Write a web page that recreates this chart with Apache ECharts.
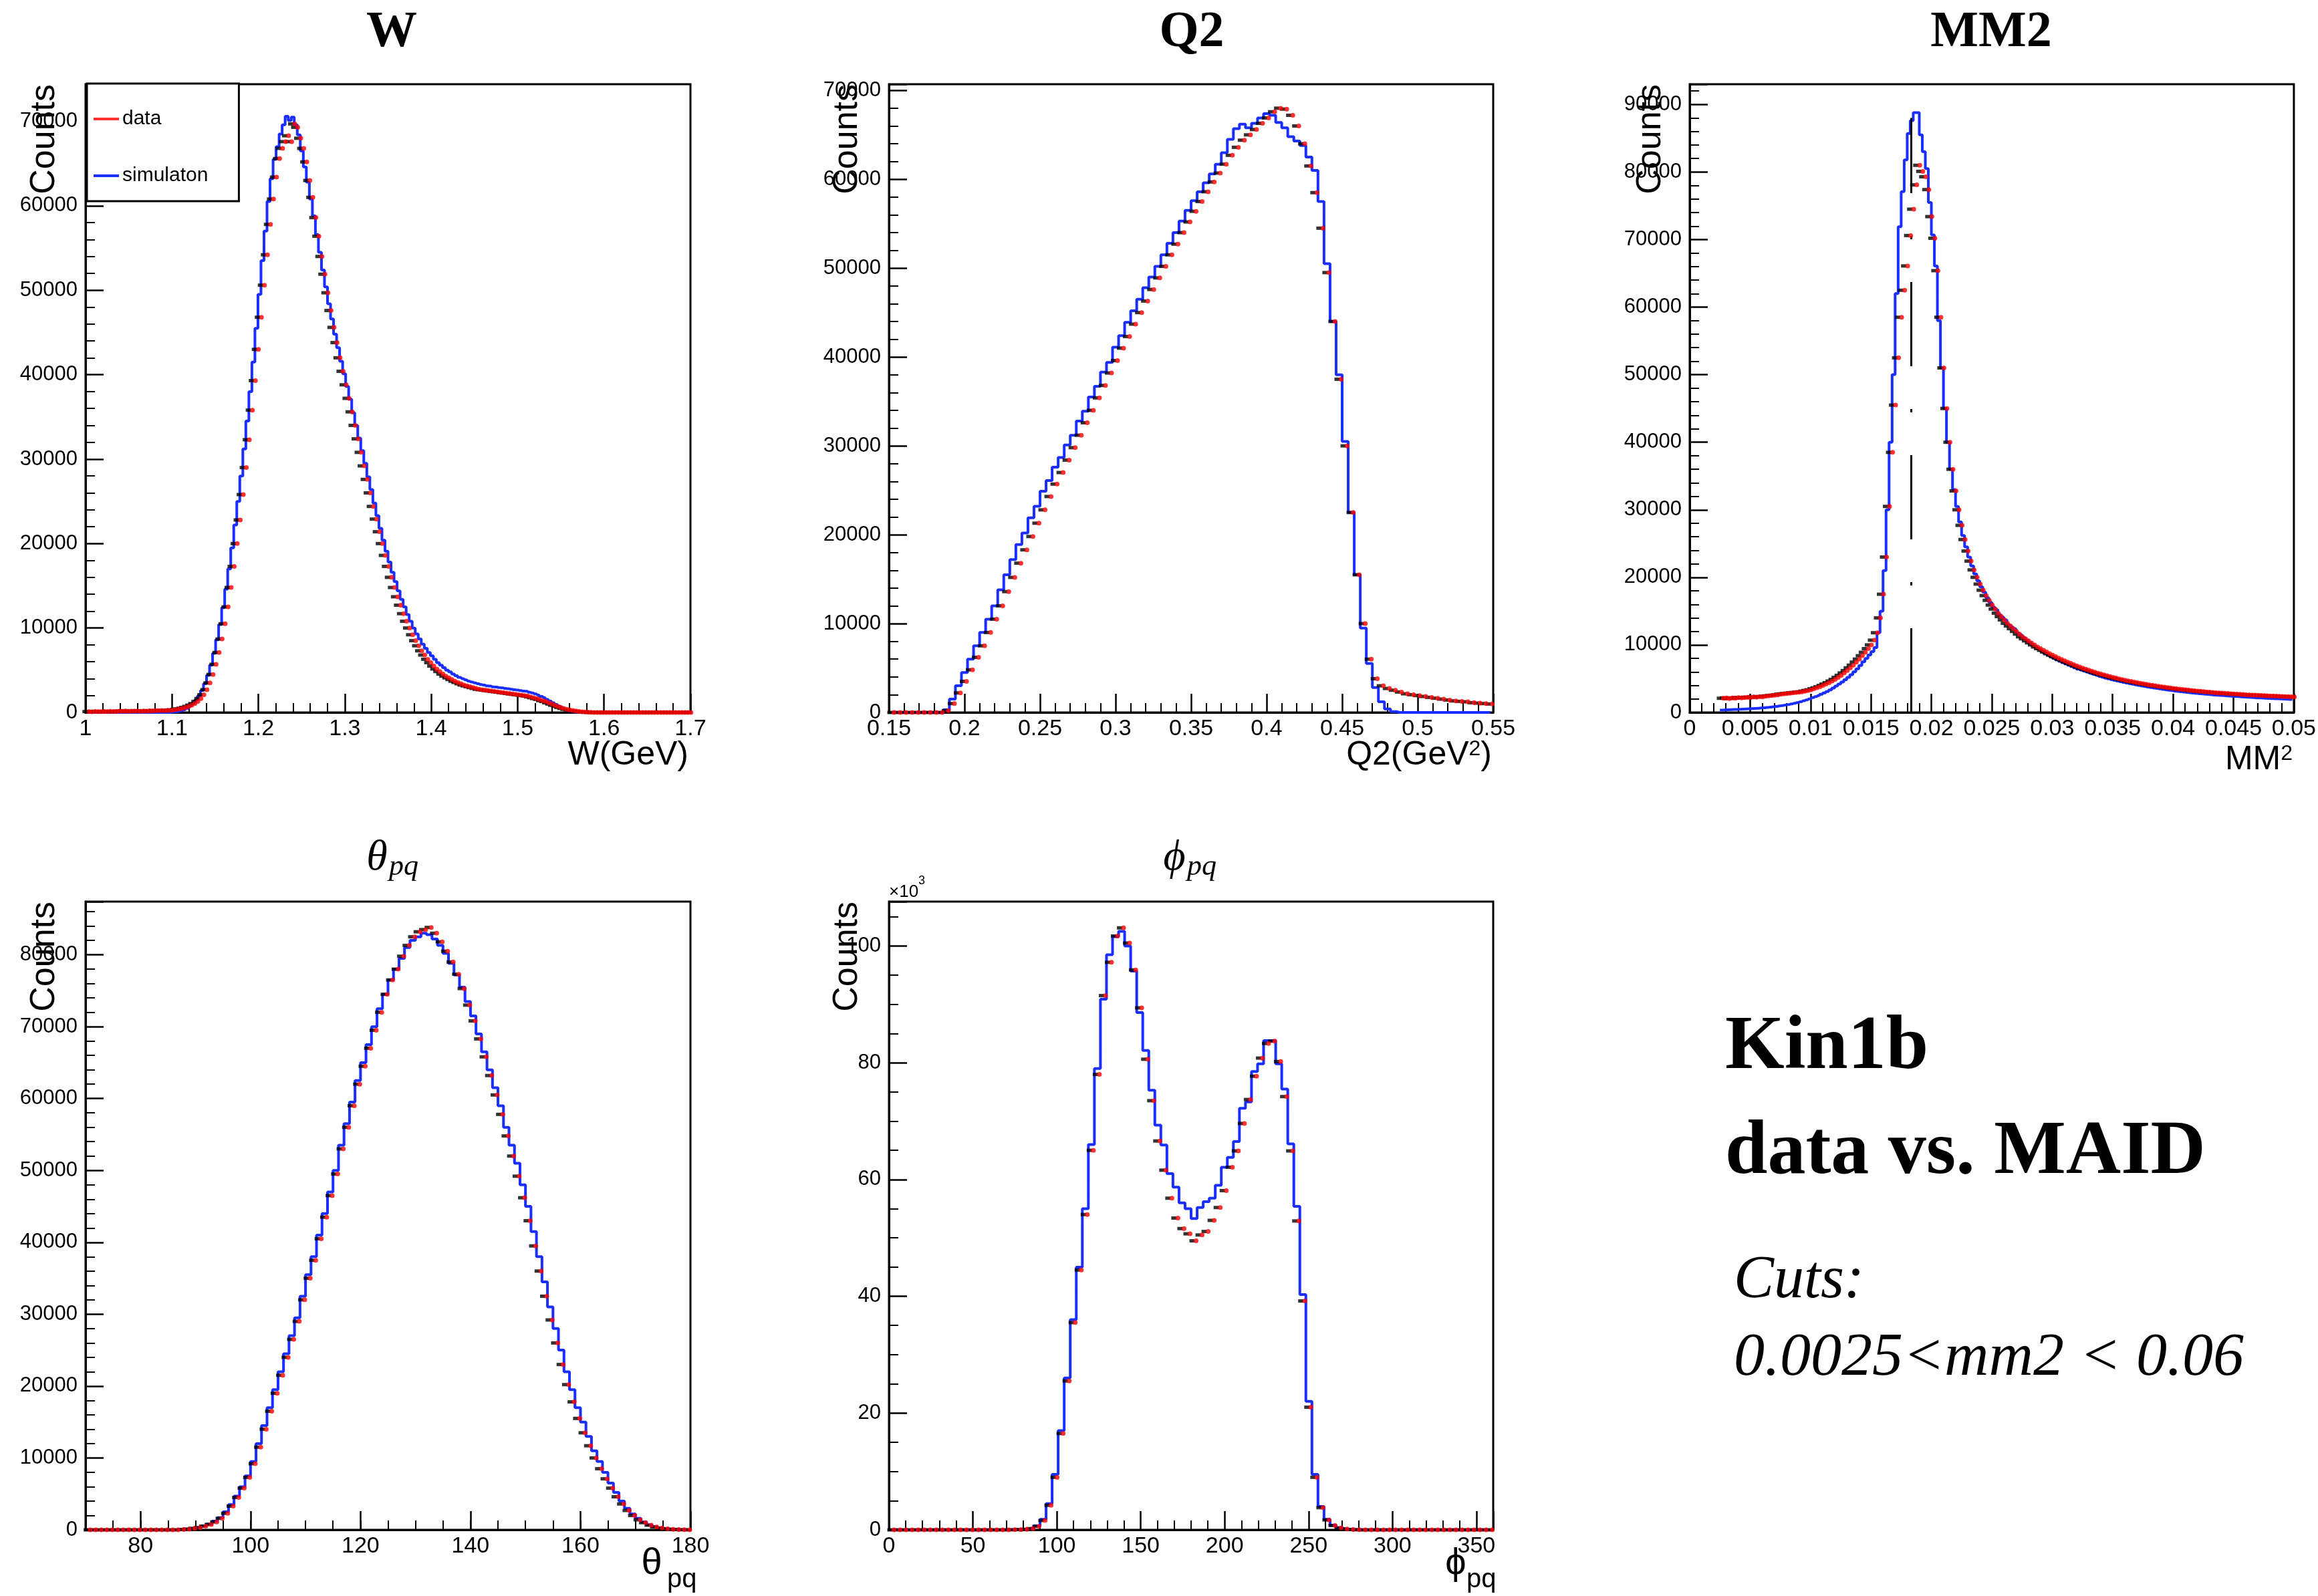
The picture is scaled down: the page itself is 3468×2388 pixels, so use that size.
<!DOCTYPE html>
<html><head><meta charset="utf-8">
<script src="https://cdn.jsdelivr.net/npm/echarts@6/dist/echarts.min.js"></script>
<style>html,body{margin:0;padding:0;background:#fff}#c{width:3468px;height:2388px}</style>
</head><body><div id="c"></div>
<script>
// ---------------- DATA (bin lower edge, bin width, counts per bin) ----------------
const W_LO = 1.0, W_BW = 0.0035;
const W_SIM = [
0,0,0,0,0,0,0,0,0,0,
0,0,0,0,0,0,0,0,0,0,
0,0,0,0,0,0,0,0,30,60,
120,200,320,500,750,1050,1450,1950,2600,3400,
4400,5600,7000,8600,10400,12400,14600,17000,19500,22200,
25000,28000,31200,34500,38000,41500,45500,49500,53500,57000,
60500,63200,65500,67000,68500,69600,70600,70100,70500,69600,
68400,66500,64600,62800,60800,58800,56600,54500,52400,50400,
48400,46600,44800,43200,41600,40100,38600,37100,35500,34000,
32500,31000,29500,27900,26400,24800,23300,21800,20400,19100,
17800,16600,15500,14400,13400,12500,11600,10800,10000,9300,
8700,8100,7600,7100,6700,6300,5900,5600,5300,5000,
4800,4550,4350,4150,4000,3850,3700,3600,3500,3400,
3300,3250,3150,3120,3030,3010,2940,2910,2840,2810,
2760,2690,2660,2600,2540,2510,2400,2310,2190,2060,
1900,1750,1550,1350,1150,950,750,550,350,200,
100,30,0,0,0,0,0,0,0,0,
0,0,0,0,0,0,0,0,0,0,
0,0,0,0,0,0,0,0,0,0,
0,0,0,0,0,0,0,0,0,0];
const W_DATA = [
100,80,120,100,90,110,100,130,90,120,
150,130,170,140,160,150,180,140,170,160,
200,180,220,210,230,200,250,240,300,350,
420,500,600,720,870,1050,1300,1650,2100,2700,
3500,4500,5700,7100,8700,10500,12500,14800,17300,20000,
22800,25800,29000,32300,35800,39300,43000,46800,50600,54200,
57800,60800,63400,65600,66800,67600,68300,67600,69700,69300,
68000,66800,65200,63000,61000,58600,56400,54000,51900,49700,
47600,45600,43800,42000,40400,38800,37200,35600,34000,32400,
30800,29200,27600,26000,24400,22900,21400,20000,18600,17300,
16000,14800,13700,12700,11700,10800,10000,9200,8500,7900,
7300,6800,6300,5900,5500,5150,4850,4550,4300,4100,
3900,3700,3550,3400,3250,3150,3050,2950,2850,2750,
2700,2650,2600,2550,2500,2450,2400,2350,2300,2250,
2200,2150,2100,2050,2000,1950,1850,1750,1650,1550,
1400,1300,1150,1000,850,720,600,480,380,300,
230,170,120,80,50,30,15,0,0,0,
0,0,0,0,0,0,0,0,0,0,
0,0,0,0,0,0,0,0,0,0,
0,0,0,0,0,0,0,0,0,0];

const Q2_LO = 0.15, Q2_BW = 0.004;
const Q2_SIM = [
0,0,0,0,0,0,0,0,0,300,
1500,3000,4500,6000,7500,9000,10500,12000,13800,15500,
17200,18900,20200,21900,23200,24900,26100,27600,28700,30100,
31200,32800,33900,35500,36700,38300,39400,41100,42400,43900,
45200,46500,47800,49000,50200,51500,52800,54000,55300,56500,
57600,58600,59600,60600,61700,63000,64500,65700,66200,65800,
66300,66900,67400,67200,66400,65800,64800,64300,63800,62500,
61000,57500,50500,44000,38000,30500,22500,15500,9500,5500,
2800,1200,400,100,0,0,0,0,0,0,
0,0,0,0,0,0,0,0,0,0];
const Q2_DATA = [
0,0,0,0,0,0,0,0,0,200,
1000,2200,3500,4800,6200,7500,9000,10500,12000,13600,
15200,16800,18300,19800,21300,22800,24300,25700,27000,28400,
29800,31200,32600,34000,35400,36800,38200,39600,41000,42300,
43700,45000,46300,47600,48900,50200,51500,52700,54000,55200,
56400,57500,58600,59700,60700,61700,62700,63600,64400,65000,
65600,66300,66900,67600,68000,67900,67200,66000,64000,61500,
58500,54500,49500,44000,37500,30000,22500,15500,10000,6000,
3800,3000,2700,2500,2300,2100,2000,1900,1800,1700,
1600,1500,1400,1300,1250,1200,1100,1050,1000,950];

const MM2_LO = 0, MM2_BW = 0.00025;
const MM2_SIM = [
null,null,null,null,null,null,null,null,null,null,
350,370,400,410,440,450,480,490,520,540,
560,600,620,660,690,740,780,840,890,960,
1020,1100,1170,1260,1360,1470,1590,1720,1860,2010,
2200,2350,2500,2700,2900,3100,3350,3600,3900,4200,
4500,4850,5200,5600,6000,6450,6950,7500,8000,8500,
9000,9600,11800,15000,21000,30000,40000,50000,62000,71900,
77100,81800,85700,87600,88800,88800,85500,83000,80500,75500,
70700,66100,58000,51000,45000,40000,36000,33000,30500,28200,
26200,24500,23000,21700,20500,19500,18600,17800,17000,16300,
15600,15200,14500,14100,13700,13000,12700,12400,11800,11500,
11100,10700,10400,10000,9700,9400,9100,8800,8550,8300,
8050,7800,7600,7400,7200,7000,6800,6600,6400,6250,
6100,5950,5800,5650,5500,5350,5200,5080,4960,4850,
4740,4640,4540,4440,4350,4260,4170,4080,4000,3920,
3840,3760,3690,3620,3550,3480,3410,3350,3290,3230,
3170,3110,3060,3010,2960,2910,2860,2820,2780,2740,
2700,2660,2620,2580,2550,2520,2490,2460,2430,2400,
2370,2340,2310,2280,2250,2220,2190,2160,2140,2120,
2100,2080,2060,2040,2020,2000,1980,1960,1940,1920];
const MM2_DATA = [
null,null,null,null,null,null,null,null,null,null,
2100,2150,2050,2150,2100,2200,2150,2200,2250,2200,
2300,2250,2350,2300,2400,2450,2500,2550,2600,2700,
2750,2800,2850,2900,2950,3000,3050,3150,3250,3350,
3500,3650,3800,4000,4200,4400,4650,4900,5200,5500,
5850,6200,6600,7000,7450,7900,8400,8900,9450,10000,
10700,11800,14000,17500,23000,30500,38500,45500,52500,58500,
62500,66100,70600,74500,78100,81000,80100,79300,77400,73400,
70200,65400,58500,51000,45000,40000,36000,32800,30000,27700,
25600,23900,22400,21100,20000,19000,18100,17300,16600,15900,
15300,14700,14200,13700,13200,12800,12400,12000,11600,11200,
10900,10600,10300,10000,9700,9450,9200,8950,8700,8480,
8250,8050,7850,7650,7450,7260,7080,6900,6720,6560,
6400,6250,6100,5960,5820,5690,5560,5440,5320,5200,
5090,4980,4880,4780,4680,4590,4500,4410,4330,4250,
4170,4090,4020,3950,3880,3810,3750,3690,3630,3570,
3510,3460,3410,3360,3310,3260,3210,3170,3130,3090,
3050,3010,2970,2930,2900,2870,2840,2810,2780,2750,
2720,2690,2660,2630,2600,2580,2560,2540,2520,2500,
2480,2460,2440,2420,2400,2380,2360,2340,2320,2300];
const MM2_LINE_X = 0.0183, MM2_LINE_TOP = 88000;

const TH_LO = 70, TH_BW = 1;
const TH_SIM = [
0,0,0,0,0,0,0,0,0,0,
0,0,0,0,0,0,0,50,100,200,
350,550,800,1200,1700,2500,3500,4700,6000,7500,
9500,12000,14500,17000,19500,22000,24500,27000,29500,32500,
35500,38000,41000,44000,47000,50000,53500,56500,59500,62500,
65000,67500,70000,72500,74500,76500,78000,79500,81000,82000,
82500,83000,82800,82200,81300,80200,78800,77200,75500,73500,
71500,69000,66500,64000,61500,59000,56000,53500,51000,48000,
45000,41500,38000,34500,31000,28000,25000,22000,19500,17000,
15000,13000,11000,9500,8000,6500,5200,4000,3000,2200,
1600,1100,700,450,250,150,80,40,20,10];
const TH_DATA = [
0,0,0,0,0,0,0,0,0,0,
0,0,0,0,0,0,0,50,100,200,
300,500,750,1100,1600,2300,3300,4500,5800,7300,
9200,11500,14000,16500,19000,21500,24000,26500,29000,32000,
35000,37500,40500,43500,46500,49500,53000,56000,59000,62000,
64500,67000,69500,72000,74500,76500,78000,79800,81300,82500,
83200,83500,83800,83000,81800,80500,79000,77300,75300,73000,
70800,68300,65800,63200,60500,57800,54800,52000,49200,46200,
43000,39500,36000,32500,29200,26000,23000,20200,17800,15500,
13500,11700,10000,8500,7100,5800,4600,3600,2700,2000,
1400,1000,650,400,250,150,80,40,20,10];

const PHI_LO = 0, PHI_BW = 3.6;
const PHI_SIM = [
0,0,0,0,0,0,0,0,0,0,
0,0,0,0,0,0,0,0,0,0,
20,50,100,250,700,1800,4500,9500,17000,26000,
36000,45000,55000,66000,79000,90900,98500,101600,102500,100000,
95700,88600,82100,75300,69300,65900,61000,58700,56000,55000,
53300,55200,56200,56800,59000,62100,63800,66500,72200,73300,
78500,79800,83800,83800,79800,75500,66100,55400,40300,22000,
9500,4000,1800,800,350,150,60,20,0,0,
0,0,0,0,0,0,0,0,0,0,
0,0,0,0,0,0,0,0,0,0];
const PHI_DATA = [
0,0,0,0,0,0,0,0,0,0,
0,0,0,0,0,0,0,0,0,0,
15,40,80,200,600,1600,4200,9000,16500,25500,
35500,44500,54000,65000,78000,91500,97200,101700,103100,100500,
95900,89400,80600,73500,66600,61600,56800,53400,51600,50700,
49500,50500,51100,53000,55200,58100,62100,64900,69600,73700,
77700,80800,83300,83700,80200,74200,64900,52900,39200,21000,
9000,3800,1700,750,330,140,55,20,0,0,
0,0,0,0,0,0,0,0,0,0,
0,0,0,0,0,0,0,0,0,0];

// axis ranges / ticks
const W_X = [1.0, 1.7, 0.1, 5],  W_Y = [0, 74400, 10000, 5];
const Q2_X = [0.15, 0.55, 0.05, 5], Q2_Y = [0, 70700, 10000, 5];
const MM2_X = [0, 0.05, 0.005, 5], MM2_Y = [0, 93000, 10000, 5];
const TH_X = [70, 180], TH_MAJOR = [80, 100, 120, 140, 160, 180], TH_MINOR_STEP = 5, TH_Y = [0, 87400, 10000, 5];
const PHI_X = [0, 360, 50, 5], PHI_Y = [0, 107600, 20000, 4];

// ---------------- CHART ----------------
const BLUE = '#1a2eff', RED = '#ff0000', BLACK = '#000000';
const SANS = '"Liberation Sans", Arial, Helvetica, sans-serif';
const SERIF = '"Liberation Serif", "Times New Roman", serif';

function pts(lo, bw, vals) { return vals.map((v, i) => [+(lo + (i + 0.5) * bw).toFixed(7), v]); }
function fmtNum(v) { return String(parseFloat((+v).toFixed(6))); }

const GRIDS = [
  { left: 128, top: 126, width: 905, height: 940 },
  { left: 1330, top: 126, width: 904, height: 940 },
  { left: 2528, top: 126, width: 904, height: 940 },
  { left: 128, top: 1349, width: 905, height: 940 },
  { left: 1330, top: 1349, width: 904, height: 940 }
];

const PANELS = [
  { lo: W_LO, bw: W_BW, sim: W_SIM, dat: W_DATA, x: W_X, y: W_Y },
  { lo: Q2_LO, bw: Q2_BW, sim: Q2_SIM, dat: Q2_DATA, x: Q2_X, y: Q2_Y },
  { lo: MM2_LO, bw: MM2_BW, sim: MM2_SIM, dat: MM2_DATA, x: MM2_X, y: MM2_Y },
  { lo: TH_LO, bw: TH_BW, sim: TH_SIM, dat: TH_DATA, x: TH_X, y: TH_Y, custom: TH_MAJOR },
  { lo: PHI_LO, bw: PHI_BW, sim: PHI_SIM, dat: PHI_DATA, x: PHI_X, y: PHI_Y, yk: true, hideXMax: true }
];

const grid = GRIDS.map(g => Object.assign({ show: true, borderColor: BLACK, borderWidth: 3, backgroundColor: '#fff', containLabel: false }, g));
const xAxis = [], yAxis = [], series = [];

PANELS.forEach((p, k) => {
  const xa = {
    type: 'value', gridIndex: k, min: p.x[0], max: p.x[1], position: 'bottom',
    axisLine: { onZero: false, lineStyle: { color: BLACK, width: 3 } },
    axisTick: { inside: true, length: 28, lineStyle: { color: BLACK, width: 2.5 } },
    minorTick: { show: true, splitNumber: p.x[3], length: 14, lineStyle: { color: BLACK, width: 2 } },
    splitLine: { show: false }, minorSplitLine: { show: false },
    axisLabel: { color: BLACK, fontSize: 34, fontFamily: SANS, margin: 8, showMinLabel: true, showMaxLabel: !p.hideXMax, formatter: fmtNum }
  };
  if (p.custom) {
    xa.axisTick.customValues = p.custom;
    xa.axisLabel.customValues = p.custom;
    xa.minorTick = { show: false };
  } else {
    xa.interval = p.x[2];
  }
  xAxis.push(xa);
  yAxis.push({
    type: 'value', gridIndex: k, min: p.y[0], max: p.y[1], interval: p.y[2], position: 'left',
    axisLine: { onZero: false, lineStyle: { color: BLACK, width: 3 } },
    axisTick: { inside: true, length: 27, lineStyle: { color: BLACK, width: 2.5 } },
    minorTick: { show: true, splitNumber: p.y[3], length: 14, lineStyle: { color: BLACK, width: 2 } },
    splitLine: { show: false }, minorSplitLine: { show: false },
    axisLabel: { color: BLACK, fontSize: 31, fontFamily: SANS, margin: 12, showMaxLabel: false,
      formatter: v => p.yk ? String(Math.round(v / 1000)) : String(Math.round(v)) }
  });
  const simSeries = {
    name: 'simulaton', type: 'line', xAxisIndex: k, yAxisIndex: k, step: 'middle',
    data: pts(p.lo, p.bw, p.sim), symbol: 'none', showSymbol: false, connectNulls: false,
    lineStyle: { color: BLUE, width: 4 }, itemStyle: { color: BLUE }, z: 3, silent: true
  };
  if (k === 2) {
    simSeries.markLine = {
      silent: true, symbol: 'none', animation: false, label: { show: false },
      lineStyle: { color: BLACK, width: 3, type: [126, 64, 5, 64] },
      data: [[{ coord: [MM2_LINE_X, 0] }, { coord: [MM2_LINE_X, MM2_LINE_TOP] }]]
    };
  }
  series.push(simSeries);
  series.push({
    name: 'data', type: 'scatter', xAxisIndex: k, yAxisIndex: k, data: pts(p.lo, p.bw, p.dat),
    symbol: 'circle', symbolSize: 7, symbolOffset: [3, 0], itemStyle: { color: RED }, z: 5, silent: true
  });
  series.push({
    name: 'data', type: 'scatter', xAxisIndex: k, yAxisIndex: k, data: pts(p.lo, p.bw, p.dat),
    symbol: 'rect', symbolSize: [8, 5], symbolOffset: [-3, 0], itemStyle: { color: BLACK }, z: 4, silent: true
  });
});

// minor ticks for theta axis (5 degree steps)
xAxis.push({
  type: 'value', gridIndex: 3, min: TH_X[0], max: TH_X[1], interval: TH_MINOR_STEP, position: 'bottom',
  axisLine: { show: false }, axisLabel: { show: false }, splitLine: { show: false },
  axisTick: { inside: true, length: 14, lineStyle: { color: BLACK, width: 2 } }
});

function txt(text, x, y, st, extra) {
  const style = Object.assign({ text: text, fill: BLACK, fontFamily: SANS, fontSize: 30, align: 'left', verticalAlign: 'middle' }, st);
  style.textAlign = style.align; style.textVerticalAlign = style.verticalAlign;
  return Object.assign({ type: 'text', x: x, y: y, silent: true, z: 100, style: style }, extra || {});
}
const TITLE = { fontFamily: SERIF, fontWeight: 'bold', fontSize: 76, align: 'center' };
const GREEK_T = { fontFamily: SERIF, fontStyle: 'italic', fontSize: 64, align: 'center' };
const SUB_T = { fontFamily: SERIF, fontStyle: 'italic', fontSize: 44, align: 'left' };
const SUPRICH = { n: { fontSize: 50, fontFamily: SANS, fill: BLACK, color: BLACK }, s: { fontSize: 32, fontFamily: SANS, fill: BLACK, color: BLACK, verticalAlign: 'top' } };

const graphic = [
  txt('W', 586, 49, TITLE), txt('Q2', 1783, 49, TITLE), txt('MM2', 2979, 49, TITLE),
  txt('θ', 564, 1284, GREEK_T), txt('pq', 582, 1297, SUB_T),
  txt('ϕ', 1757, 1284, GREEK_T), txt('pq', 1776, 1297, SUB_T),
  ...[[67, 126], [1268, 126], [2470, 126], [67, 1349], [1268, 1349]].map(c =>
    txt('Counts', c[0], c[1], { fontSize: 52, align: 'right' }, { rotation: Math.PI / 2 })),
  txt('W(GeV)', 1030, 1130, { fontSize: 50, align: 'right' }),
  { type: 'text', x: 2232, y: 1130, silent: true, z: 100, style: { text: '{n|Q2(GeV}{s|2}{n|)}', align: 'right', verticalAlign: 'middle', textAlign: 'right', textVerticalAlign: 'middle', rich: SUPRICH } },
  { type: 'text', x: 3430, y: 1137, silent: true, z: 100, style: { text: '{n|MM}{s|2}', align: 'right', verticalAlign: 'middle', textAlign: 'right', textVerticalAlign: 'middle', rich: SUPRICH } },
  txt('θ', 975, 2340, { fontSize: 56, align: 'center' }), txt('pq', 998, 2364, { fontSize: 40 }),
  txt('ϕ', 2178, 2340, { fontSize: 56, align: 'center' }), txt('pq', 2194, 2364, { fontSize: 40 }),
  txt('×10', 1330, 1335, { fontSize: 26 }), txt('3', 1374, 1318, { fontSize: 18 }),
  txt('Kin1b', 2581, 1569, { fontFamily: SERIF, fontWeight: 'bold', fontSize: 114 }),
  txt('data vs. MAID', 2581, 1726, { fontFamily: SERIF, fontWeight: 'bold', fontSize: 114 }),
  txt('Cuts:', 2594, 1917, { fontFamily: SERIF, fontStyle: 'italic', fontSize: 90 }),
  txt('0.0025<mm2 < 0.06', 2594, 2033, { fontFamily: SERIF, fontStyle: 'italic', fontSize: 92 })
];

const chart = echarts.init(document.getElementById('c'), null, { renderer: 'canvas', width: 3468, height: 2388 });
chart.setOption({
  backgroundColor: '#ffffff',
  animation: false,
  grid, xAxis, yAxis, series, graphic,
  legend: {
    show: true, left: 130, top: 125, orient: 'vertical', backgroundColor: '#fff', borderColor: BLACK, borderWidth: 3, borderRadius: 0,
    padding: [38, 46, 23, 10], itemGap: 55, itemWidth: 38, itemHeight: 4, selectedMode: false, z: 20,
    textStyle: { color: BLACK, fontSize: 30, fontFamily: SANS },
    data: [{ name: 'data', icon: 'rect', itemStyle: { color: RED } }, { name: 'simulaton', icon: 'rect', itemStyle: { color: BLUE } }]
  }
});
</script></body></html>
